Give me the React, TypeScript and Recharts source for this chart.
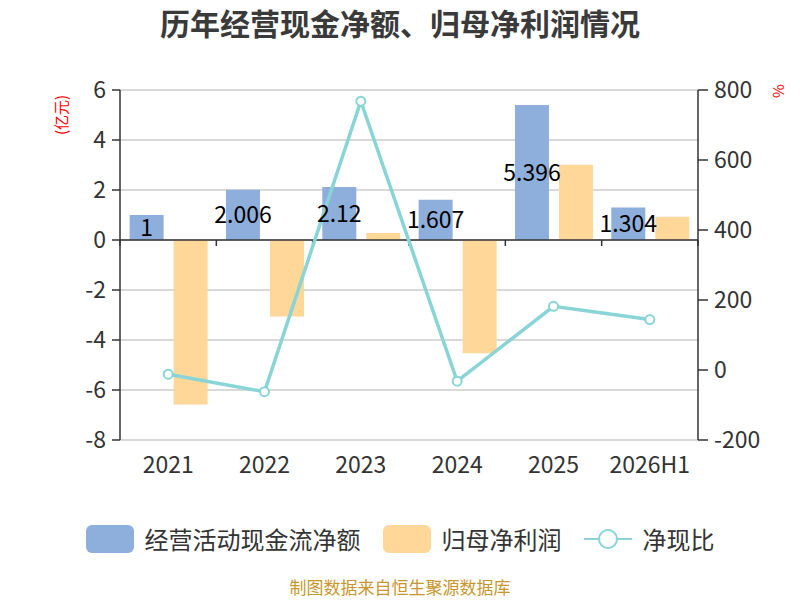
import {
  ComposedChart,
  Bar,
  Line,
  XAxis,
  YAxis,
  CartesianGrid,
  ReferenceLine,
  LabelList,
  Legend,
} from "recharts";

const years = ["2021", "2022", "2023", "2024", "2025", "2026H1"];
const cashFlow = [1, 2.006, 2.12, 1.607, 5.396, 1.304];
const netProfit = [-6.58, -3.06, 0.28, -4.53, 3.01, 0.93];
const cashRatio = [-12, -62, 768, -32, 182, 144];
const leftTicks = [-8, -6, -4, -2, 0, 2, 4, 6];
const rightTicks = [-200, 0, 200, 400, 600, 800];
const seriesNames = ["经营活动现金流净额", "归母净利润", "净现比"];

const data = years.map((year, i) => ({
  year,
  cash: cashFlow[i],
  profit: netProfit[i],
  ratio: cashRatio[i],
}));

const FONT = "'Noto Sans CJK SC', 'Noto Sans', sans-serif";
const BLUE = "#8eaedb";
const ORANGE = "#ffd899";
const TEAL = "#88d4d6";
const AXIS = "#333";

// zero line that doubles as the category axis, with ticks at band boundaries
const ZeroAxis = (props: any) => {
  const { x1, y1, x2 } = props;
  const n = years.length;
  const marks = Array.from({ length: n + 1 }, (_, i) => x1 + ((x2 - x1) * i) / n);
  return (
    <g>
      <line x1={x1} y1={y1} x2={x2} y2={y1} stroke={AXIS} strokeWidth={1.5} />
      {marks.map((tx, i) => (
        <line key={i} x1={tx} y1={y1} x2={tx} y2={y1 + 6} stroke={AXIS} strokeWidth={1.5} />
      ))}
    </g>
  );
};

const YearTick = (props: any) => {
  const { x, y, payload } = props;
  return (
    <text x={x} y={y + 33} textAnchor="middle" fill={AXIS} fontSize={23} fontFamily={FONT}>
      {payload.value}
    </text>
  );
};

const renderLegend = (props: any) => {
  const payload = [...(props.payload || [])].sort(
    (a: any, b: any) => seriesNames.indexOf(a.value) - seriesNames.indexOf(b.value)
  );
  return (
    <div style={{ display: "flex", justifyContent: "center", alignItems: "center", fontFamily: FONT }}>
      {payload.map((entry: any) => (
        <div key={entry.value} style={{ display: "flex", alignItems: "center", margin: "0 11px" }}>
          {entry.type === "line" ? (
            <svg width={48} height={28}>
              <line x1={0} y1={14} x2={48} y2={14} stroke={TEAL} strokeWidth={2} />
              <circle cx={24} cy={14} r={9} fill="#fff" stroke={TEAL} strokeWidth={2} />
            </svg>
          ) : (
            <div style={{ width: 48, height: 28, borderRadius: 6, background: entry.color }} />
          )}
          <span style={{ marginLeft: 11, fontSize: 24, color: AXIS }}>{entry.value}</span>
        </div>
      ))}
    </div>
  );
};

const App = () => {
  return (
    <div style={{ position: "absolute", left: 0, top: 0, width: 800, height: 600, background: "#fff", fontFamily: FONT }}>
      <div
        style={{
          position: "absolute",
          top: 3,
          width: 800,
          textAlign: "center",
          fontSize: 30,
          fontWeight: "bold",
          lineHeight: "38px",
          color: "#3a3a3a",
        }}
      >
        历年经营现金净额、归母净利润情况
      </div>
      <div
        style={{
          position: "absolute",
          left: 60,
          top: 115,
          transform: "translate(-50%, -50%) rotate(-90deg)",
          fontSize: 15,
          color: "#f00",
          whiteSpace: "nowrap",
        }}
      >
        (亿元)
      </div>
      <div
        style={{
          position: "absolute",
          left: 777,
          top: 91,
          transform: "translate(-50%, -50%) rotate(-90deg)",
          fontSize: 15,
          color: "#f00",
        }}
      >
        %
      </div>
      <ComposedChart
        width={800}
        height={600}
        data={data}
        margin={{ top: 90, right: 42, left: 60, bottom: 120 }}
        barCategoryGap="10%"
        barGap={10}
      >
        <CartesianGrid yAxisId="left" vertical={false} stroke="#ccc" strokeWidth={1.5} />
        <XAxis
          dataKey="year"
          axisLine={false}
          tickLine={false}
          tickSize={0}
          tickMargin={0}
          height={40}
          interval={0}
          tick={<YearTick />}
        />
        <YAxis
          yAxisId="left"
          domain={[-8, 6]}
          ticks={leftTicks}
          interval={0}
          width={60}
          tickSize={8}
          tickMargin={6}
          axisLine={{ stroke: AXIS, strokeWidth: 1.5 }}
          tickLine={{ stroke: AXIS, strokeWidth: 1.5 }}
          tick={{ fill: AXIS, fontSize: 23, fontFamily: FONT }}
        />
        <YAxis
          yAxisId="right"
          orientation="right"
          domain={[-200, 800]}
          ticks={rightTicks}
          interval={0}
          width={60}
          tickSize={10}
          tickMargin={6}
          axisLine={{ stroke: AXIS, strokeWidth: 1.5 }}
          tickLine={{ stroke: AXIS, strokeWidth: 1.5 }}
          tick={{ fill: AXIS, fontSize: 23, fontFamily: FONT }}
        />
        <Bar yAxisId="left" dataKey="cash" name={seriesNames[0]} fill={BLUE} isAnimationActive={false}>
          <LabelList dataKey="cash" position="center" fill="#000" fontSize={23} fontFamily={FONT} />
        </Bar>
        <Bar yAxisId="left" dataKey="profit" name={seriesNames[1]} fill={ORANGE} isAnimationActive={false} />
        <ReferenceLine yAxisId="left" y={0} shape={<ZeroAxis />} />
        <Line
          yAxisId="right"
          dataKey="ratio"
          name={seriesNames[2]}
          type="linear"
          stroke={TEAL}
          strokeWidth={3.5}
          dot={{ r: 4.5, fill: "#fff", stroke: TEAL, strokeWidth: 2 }}
          legendType="line"
          isAnimationActive={false}
        />
        <Legend
          layout="horizontal"
          align="center"
          verticalAlign="middle"
          content={renderLegend}
          wrapperStyle={{ top: 521, left: 0, width: 800 }}
        />
      </ComposedChart>
      <div
        style={{
          position: "absolute",
          top: 577,
          width: 800,
          textAlign: "center",
          fontSize: 17,
          lineHeight: "20px",
          color: "#c8962e",
        }}
      >
        制图数据来自恒生聚源数据库
      </div>
    </div>
  );
};

export default App;
